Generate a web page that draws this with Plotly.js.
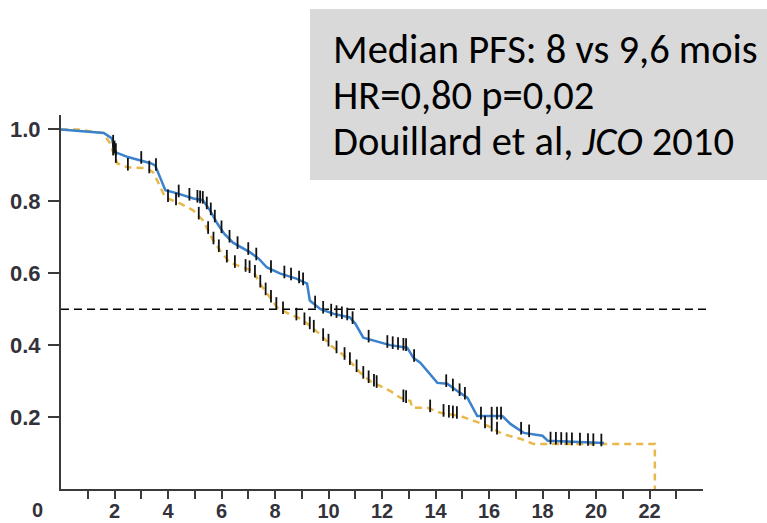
<!DOCTYPE html>
<html>
<head>
<meta charset="utf-8">
<script src="https://cdn.plot.ly/plotly-3.0.1.min.js"></script>
<style>html,body{margin:0;padding:0;background:#fff;}#chart{width:767px;height:523px;}</style>
</head>
<body>
<div id="chart"></div>
<script>
// Treatment arm (blue, solid) - Kaplan-Meier PFS
const blueT = [0, 0.7, 1.6, 1.9, 2.02, 2.5, 3.0, 3.35, 3.52, 3.7, 3.9, 4.35, 4.95, 5.3, 5.57, 5.84, 6.1, 6.43, 6.8, 7.07, 7.4, 7.7, 8.2, 8.8, 9.2, 9.3, 9.7, 10.2, 10.8, 11.0, 11.3, 11.7, 12.3, 12.94, 13.17, 13.43, 13.8, 14.07, 14.44, 14.8, 15.19, 15.41, 15.56, 16.5, 16.8, 17.3, 18.0, 18.2, 20.3];
const blueS = [1.0, 0.995, 0.99, 0.975, 0.937, 0.923, 0.914, 0.906, 0.9, 0.867, 0.831, 0.822, 0.808, 0.803, 0.775, 0.739, 0.71, 0.685, 0.668, 0.658, 0.64, 0.616, 0.599, 0.585, 0.571, 0.524, 0.50, 0.487, 0.477, 0.46, 0.421, 0.413, 0.40, 0.393, 0.365, 0.351, 0.32, 0.295, 0.293, 0.273, 0.254, 0.226, 0.203, 0.203, 0.181, 0.156, 0.148, 0.134, 0.128];
// Control arm (yellow, dashed)
const yellowT = [0, 0.6, 1.57, 1.83, 2.1, 2.47, 3.2, 3.44, 3.63, 3.89, 4.45, 4.94, 5.31, 5.69, 5.95, 6.3, 6.8, 7.18, 7.44, 7.7, 8.08, 8.5, 8.94, 9.2, 9.69, 10.1, 10.5, 10.85, 11.19, 11.6, 12.3, 12.68, 13.06, 13.13, 13.7, 14.18, 14.93, 15.41, 15.94, 16.5, 17.2, 17.67, 22.2, 22.2];
const yellowS = [1.0, 1.0, 0.99, 0.962, 0.906, 0.895, 0.892, 0.881, 0.853, 0.811, 0.794, 0.775, 0.747, 0.691, 0.663, 0.63, 0.616, 0.607, 0.571, 0.543, 0.505, 0.488, 0.474, 0.46, 0.43, 0.398, 0.376, 0.351, 0.323, 0.298, 0.273, 0.254, 0.245, 0.226, 0.226, 0.212, 0.203, 0.19, 0.176, 0.153, 0.139, 0.125, 0.125, 0];
// Censoring times
const blueCensor = [1.95, 2.0, 2.05, 3.0, 3.55, 4.4, 4.8, 5.1, 5.2, 5.3, 5.45, 5.6, 5.75, 6.0, 6.3, 6.6, 7.0, 7.3, 7.85, 8.35, 8.6, 8.9, 9.05, 9.5, 9.8, 10.1, 10.3, 10.5, 10.7, 10.9, 11.5, 12.2, 12.4, 12.6, 12.8, 12.9, 13.2, 14.4, 14.65, 14.9, 15.1, 15.7, 16.1, 16.3, 16.45, 17.2, 17.5, 18.3, 18.5, 18.7, 18.9, 19.1, 19.4, 19.7, 19.9, 20.2];
const yellowCensor = [1.95, 2.05, 2.5, 3.3, 4.0, 4.3, 5.15, 5.5, 5.7, 5.9, 6.2, 6.5, 6.9, 7.05, 7.25, 7.45, 7.65, 7.85, 8.05, 8.3, 8.8, 9.1, 9.3, 9.45, 9.8, 10.0, 10.3, 10.6, 10.8, 11.05, 11.3, 11.5, 11.7, 11.8, 12.8, 12.9, 13.8, 14.3, 14.5, 14.65, 14.8, 15.85, 16.1, 16.3];
// Axis ticks
const xTickVals = [1,2,3,4,5,6,7,8,9,10,11,12,13,14,15,16,17,18,19,20,21,22,23];
const xTickText = ['','2','','4','','6','','8','','10','','12','','14','','16','','18','','20','','22',''];
const yTickVals = [0.2, 0.4, 0.6, 0.8, 1.0];
const yTickText = ['0.2', '0.4', '0.6', '0.8', '1.0'];
const medianLevel = 0.5;
const boxLines = ['Median PFS: 8 vs 9,6 mois', 'HR=0,80 p=0,02', 'Douillard et al, <i>JCO</i> 2010'];

function curveAt(T, S, t) {
  for (let i = 1; i < T.length; i++) {
    if (t <= T[i]) {
      const f = (T[i] - T[i-1]) === 0 ? 0 : (t - T[i-1]) / (T[i] - T[i-1]);
      return S[i-1] + f * (S[i] - S[i-1]);
    }
  }
  return S[S.length - 1];
}

const yTickFont = {family: 'Liberation Sans, Arial, sans-serif', size: 22, color: '#33323a', weight: 'bold'};
const xTickFont = {family: 'Liberation Sans, Arial, sans-serif', size: 20, color: '#33323a', weight: 'bold'};

const traces = [
  {x: yellowT, y: yellowS, type: 'scatter', mode: 'lines', line: {color: '#e8b84a', width: 2.5, dash: '7px,5px'}, hoverinfo: 'skip'},
  {x: blueT, y: blueS, type: 'scatter', mode: 'lines', line: {color: '#3a82cc', width: 2.5}, hoverinfo: 'skip'},
  {x: yellowCensor, y: yellowCensor.map(t => curveAt(yellowT, yellowS, t) + 0.008), type: 'scatter', mode: 'markers',
   marker: {symbol: 'line-ns', size: 9, line: {color: '#111', width: 1.8}}, hoverinfo: 'skip'},
  {x: blueCensor, y: blueCensor.map(t => curveAt(blueT, blueS, t) + 0.008), type: 'scatter', mode: 'markers',
   marker: {symbol: 'line-ns', size: 9, line: {color: '#111', width: 1.8}}, hoverinfo: 'skip'}
];

const plotL = 61, plotR = 703, plotT = 115, plotB = 489;
const pw = plotR - plotL, ph = plotB - plotT;
const px = v => (v - plotL) / pw;
const py = v => (plotB - v) / ph;

const annotations = boxLines.map((t, i) => ({
  text: t, xref: 'paper', yref: 'paper', x: px(331), y: py([49, 95, 141][i]),
  xanchor: 'left', yanchor: 'middle', showarrow: false,
  font: {family: 'Carlito, Calibri, Lato, sans-serif', size: 40.5, color: '#000'}
}));
annotations.push({text: '0', xref: 'paper', yref: 'paper', x: px(37), y: py(510), xanchor: 'center', yanchor: 'middle',
  showarrow: false, font: xTickFont});

const layout = {
  width: 767, height: 523,
  margin: {l: plotL, r: 767 - plotR, t: plotT, b: 523 - plotB, pad: 0},
  paper_bgcolor: '#fff', plot_bgcolor: '#fff',
  showlegend: false,
  xaxis: {range: [0, 24], tickmode: 'array', tickvals: xTickVals, ticktext: xTickText,
    showgrid: false, zeroline: false, showline: true, linecolor: '#3a3a3a', linewidth: 2,
    ticks: 'outside', ticklen: 8, tickwidth: 2, tickcolor: '#3a3a3a', tickfont: xTickFont, ticklabelstandoff: -5},
  yaxis: {range: [0, 1.04], tickmode: 'array', tickvals: yTickVals, ticktext: yTickText,
    showgrid: false, zeroline: false, showline: true, linecolor: '#3a3a3a', linewidth: 2,
    ticks: 'outside', ticklen: 11, tickwidth: 2, tickcolor: '#3a3a3a', tickfont: yTickFont, ticklabelstandoff: 3},
  shapes: [
    {type: 'line', xref: 'paper', yref: 'y', x0: 0, x1: px(708), y0: medianLevel, y1: medianLevel,
     line: {color: '#000', width: 1.6, dash: '8px,5px'}, layer: 'below'},
    {type: 'rect', xref: 'paper', yref: 'paper', x0: px(310), x1: px(767), y0: py(180), y1: py(9),
     fillcolor: '#d9d9d9', line: {width: 0}, layer: 'above'}
  ],
  annotations: annotations
};

Plotly.newPlot('chart', traces, layout, {displayModeBar: false, staticPlot: true});
</script>
</body>
</html>
